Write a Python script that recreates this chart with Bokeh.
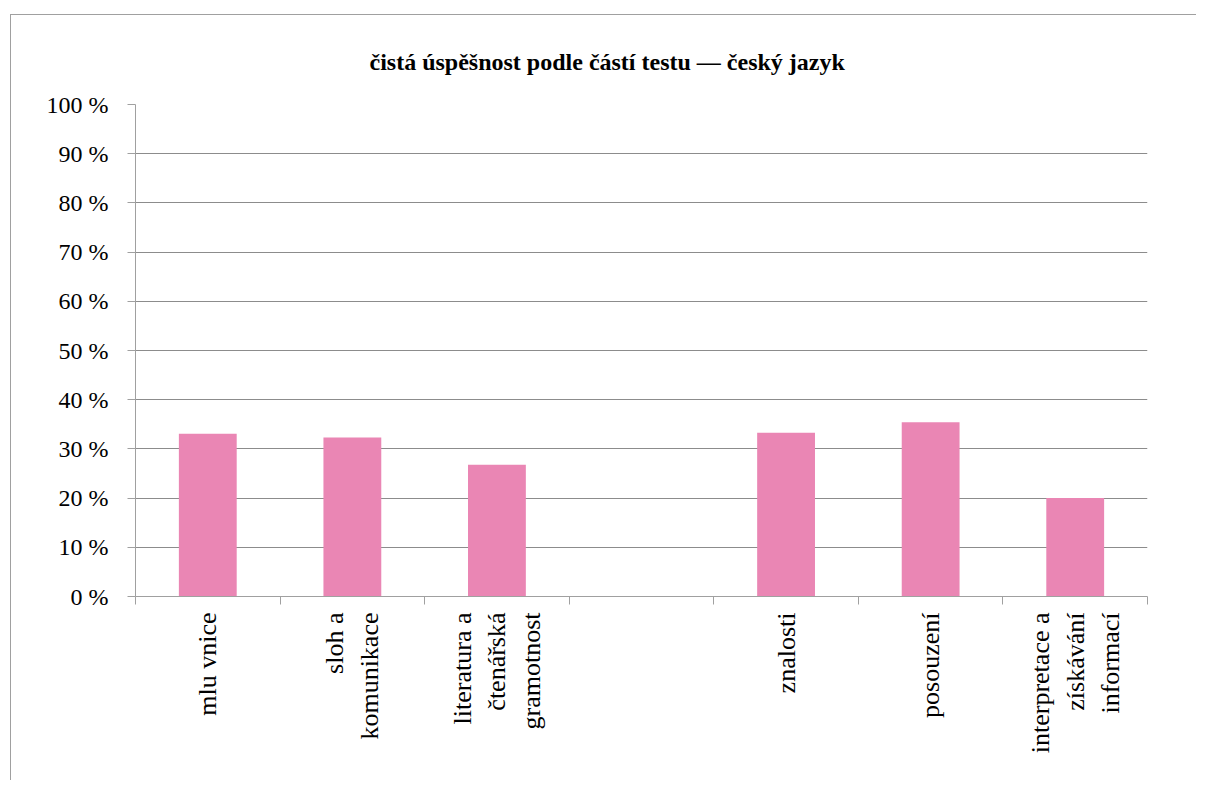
from bokeh.plotting import figure
from bokeh.models import FixedTicker, PrintfTickFormatter, Range1d, LinearAxis
from bokeh.embed import file_html
from bokeh.resources import INLINE
import math

# ---- data ----
categories = ["mlu vnice", "sloh a\nkomunikace", "literatura a\nčtenářská\ngramotnost", "",
              "znalosti", "posouzení", "interpretace a\nzískávání\ninformací"]
values = [33.1, 32.3, 26.8, None, 33.3, 35.4, 20.0]
y_ticks = [0, 10, 20, 30, 40, 50, 60, 70, 80, 90, 100]
title_text = "čistá úspěšnost podle částí testu — český jazyk"

BAR = "#EA86B4"
GRID = "#8C8C8C"
AXIS = "#A0A0A0"
SERIF = "Liberation Serif"

n = len(categories)
xs = list(range(1, n + 1))
bx = [x for x, v in zip(xs, values) if v is not None]
bv = [v for v in values if v is not None]
bounds = [i + 0.5 for i in range(0, n + 1)]

p = figure(width=1186, height=766, output_backend="svg", toolbar_location=None,
           x_range=Range1d(0.5, n + 0.5), y_range=Range1d(0, 100),
           min_border_left=124, min_border_right=50, min_border_top=89,
           min_border_bottom=185, title=title_text)
p.styles = {"margin-left": "10px", "margin-top": "14px",
            "border-top": "1px solid #A0A0A0", "border-left": "1px solid #A0A0A0"}
p.outline_line_color = None
p.background_fill_color = "white"

p.title.text_font = SERIF
p.title.text_font_style = "bold"
p.title.text_font_size = "24px"
p.title.text_color = "black"
p.title.align = "left"
p.title.offset = 234
p.title.standoff = 59

p.vbar(x=bx, top=bv, width=0.4, bottom=0, fill_color=BAR, line_color=None)

# x axis: boundary ticks, no labels
p.xaxis.ticker = FixedTicker(ticks=bounds)
p.xaxis.major_label_overrides = {b: "" for b in bounds}
p.xaxis.major_label_standoff = 0
p.xaxis.major_tick_out = 8
p.xaxis.major_tick_in = 0
p.xaxis.minor_tick_line_color = None
p.xaxis.axis_line_color = AXIS
p.xaxis.major_tick_line_color = AXIS
p.xgrid.grid_line_color = None

# second x axis: category labels
lab_axis = LinearAxis(ticker=FixedTicker(ticks=[x for x, c in zip(xs, categories) if c]),
                      major_label_overrides={x: c for x, c in zip(xs, categories) if c},
                      major_label_orientation=math.pi / 2,
                      major_label_standoff=2,
                      major_tick_line_color=None, minor_tick_line_color=None,
                      axis_line_color=None)
lab_axis.major_label_text_font = SERIF
lab_axis.major_label_text_font_size = "26px"
lab_axis.major_label_text_color = "black"
p.add_layout(lab_axis, "below")

p.yaxis.ticker = FixedTicker(ticks=y_ticks)
p.yaxis.formatter = PrintfTickFormatter(format="%d %%")
p.yaxis.major_label_text_font = SERIF
p.yaxis.major_label_text_font_size = "24px"
p.yaxis.major_label_text_color = "black"
p.yaxis.major_tick_out = 8
p.yaxis.major_tick_in = 0
p.yaxis.major_label_standoff = 19
p.yaxis.minor_tick_line_color = None
p.yaxis.axis_line_color = AXIS
p.yaxis.major_tick_line_color = AXIS
p.ygrid.grid_line_color = GRID
p.ygrid.grid_line_width = 1

open("out.html", "w").write(file_html(p, INLINE))
